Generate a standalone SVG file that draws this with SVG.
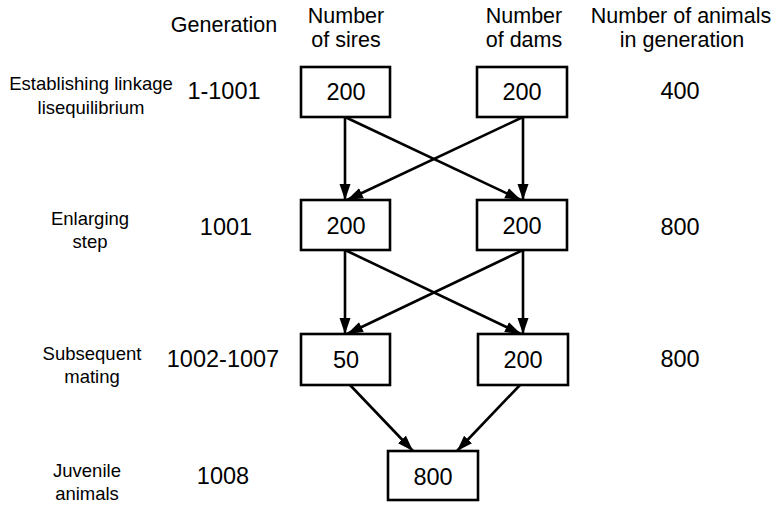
<svg xmlns="http://www.w3.org/2000/svg" width="778" height="505" viewBox="0 0 778 505">
<defs>
<marker id="ah" markerWidth="16" markerHeight="12" viewBox="0 0 16 12" refX="16" refY="6" orient="auto" markerUnits="userSpaceOnUse">
<path d="M0,0.5 L16,6 L0,11.5 Z" fill="#000"/>
</marker>
<style>
text{font-family:"Liberation Sans",Arial,sans-serif;fill:#000;text-anchor:middle}
.h{font-size:21.5px}
.l{font-size:18.5px}
.n{font-size:23.5px}
.box{fill:#fff;stroke:#000;stroke-width:2.6}
.c{stroke:#000;stroke-width:2.6;fill:none;marker-end:url(#ah)}
</style>
</defs>
<g id="headers">
<text class="h" x="224" y="32">Generation</text>
<text class="h" x="346" y="23">Number</text>
<text class="h" x="346" y="47">of sires</text>
<text class="h" x="524" y="23">Number</text>
<text class="h" x="524" y="47">of dams</text>
<text class="h" x="681" y="23">Number of animals</text>
<text class="h" x="682" y="47">in generation</text>
</g>
<g id="row-labels">
<text class="l" x="91" y="90">Establishing linkage</text>
<text class="l" x="91" y="114">lisequilibrium</text>
<text class="n" x="224" y="99">1-1001</text>
<text class="n" x="680" y="99">400</text>
<text class="l" x="90" y="225">Enlarging</text>
<text class="l" x="90" y="248">step</text>
<text class="n" x="226" y="235">1001</text>
<text class="n" x="680" y="235">800</text>
<text class="l" x="92" y="360">Subsequent</text>
<text class="l" x="92" y="383">mating</text>
<text class="n" x="223" y="367">1002-1007</text>
<text class="n" x="680" y="367">800</text>
<text class="l" x="87" y="477">Juvenile</text>
<text class="l" x="87" y="500">animals</text>
<text class="n" x="223" y="484">1008</text>
</g>
<g id="connectors">
<line class="c" x1="345" y1="117" x2="345" y2="200"/>
<line class="c" x1="523" y1="117" x2="523" y2="200"/>
<line class="c" x1="345" y1="117" x2="521" y2="200"/>
<line class="c" x1="523" y1="117" x2="347" y2="200"/>
<line class="c" x1="345" y1="250" x2="345" y2="334"/>
<line class="c" x1="523" y1="250" x2="523" y2="334"/>
<line class="c" x1="345" y1="250" x2="521" y2="334"/>
<line class="c" x1="523" y1="250" x2="347" y2="334"/>
<line class="c" x1="350" y1="385" x2="413" y2="451"/>
<line class="c" x1="520" y1="385" x2="457" y2="451"/>
</g>
<g id="sires-1"><rect class="box" x="301" y="67" width="89" height="50"/><text class="n" x="346" y="100">200</text></g>
<g id="dams-1"><rect class="box" x="477" y="67" width="90" height="50"/><text class="n" x="522" y="100">200</text></g>
<g id="sires-2"><rect class="box" x="301" y="200" width="89" height="50"/><text class="n" x="346" y="234">200</text></g>
<g id="dams-2"><rect class="box" x="477" y="200" width="90" height="50"/><text class="n" x="522" y="234">200</text></g>
<g id="sires-3"><rect class="box" x="301" y="334" width="89" height="51"/><text class="n" x="346" y="368">50</text></g>
<g id="dams-3"><rect class="box" x="478" y="334" width="90" height="51"/><text class="n" x="523" y="368">200</text></g>
<g id="juveniles"><rect class="box" x="388" y="451" width="90" height="49"/><text class="n" x="433" y="485">800</text></g>
</svg>
